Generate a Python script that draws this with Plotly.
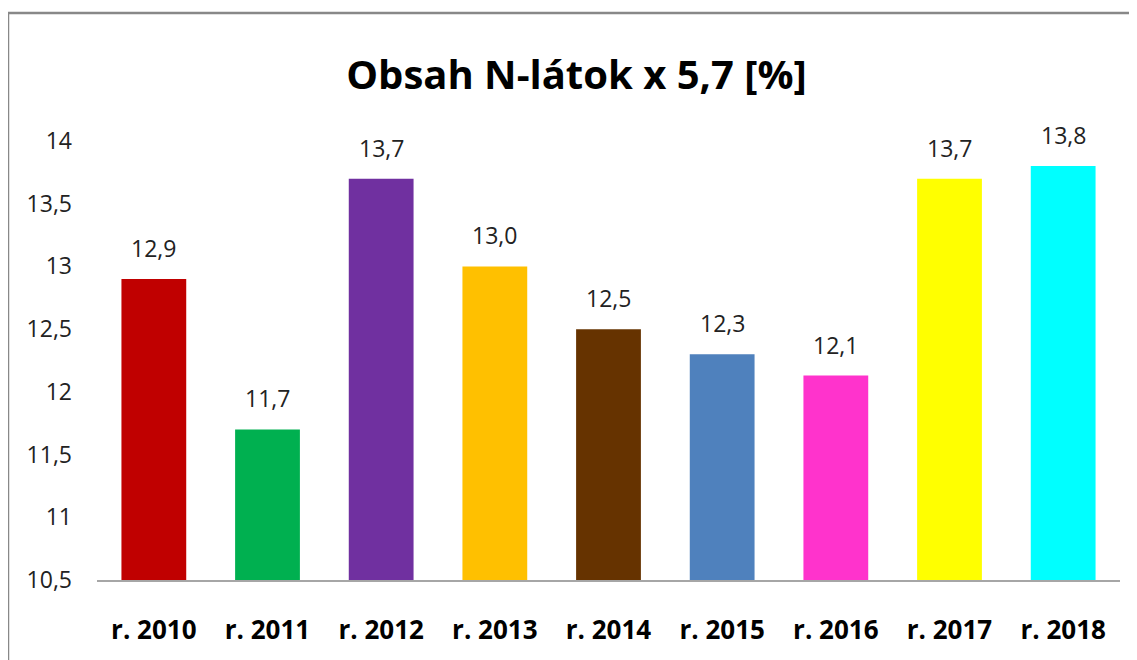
import plotly.graph_objects as go

categories = ["r. 2010", "r. 2011", "r. 2012", "r. 2013", "r. 2014", "r. 2015", "r. 2016", "r. 2017", "r. 2018"]
values = [12.9, 11.7, 13.7, 13.0, 12.5, 12.3, 12.13, 13.7, 13.8]
colors = ["#C00000", "#00B050", "#7030A0", "#FFC000", "#663300", "#4F81BD", "#FF33CC", "#FFFF00", "#00FFFF"]
title_text = "Obsah N-látok x 5,7 [%]"
y_ticks = [10.5, 11, 11.5, 12, 12.5, 13, 13.5, 14]

FONT = "Open Sans"

fig = go.Figure()
fig.add_trace(go.Bar(
    x=categories, y=values, marker=dict(color=colors, line=dict(width=0)),
    width=0.57, hoverinfo="skip",
))

for c, v in zip(categories, values):
    fig.add_annotation(x=c, y=v, text=f"{v:.1f}".replace(".", ","), showarrow=False,
                       yanchor="middle", yshift=31,
                       font=dict(family=FONT, size=23, color="#222222"))

# outer frame (cropped on right and bottom)
fig.add_shape(type="rect", xref="paper", yref="paper",
              x0=-0.087, x1=1.2, y0=-0.4, y1=1.2916,
              line=dict(color="#888888", width=2.5), fillcolor="rgba(0,0,0,0)", layer="below")

fig.update_layout(
    width=1137, height=660,
    margin=dict(l=89, r=25, t=133, b=88),
    paper_bgcolor="white", plot_bgcolor="white",
    separators=", ",
    showlegend=False,
    title=dict(text=f"<b>{title_text}</b>", x=0.5, xref="container", xanchor="center",
               y=1 - 67 / 660, yref="container", yanchor="middle",
               font=dict(family=FONT, size=40, color="#000000")),
    xaxis=dict(showline=True, linecolor="#A6A6A6", linewidth=1.5, ticks="",
               showgrid=False, ticklabelstandoff=26,
               tickfont=dict(family=FONT, size=26, color="#000000", weight="bold")),
    yaxis=dict(range=[10.5, 14], tickvals=y_ticks, showgrid=False, zeroline=False,
               showline=False, ticks="", ticklabelstandoff=24,
               tickfont=dict(family=FONT, size=23, color="#222222")),
)

fig.write_html("out.html")
